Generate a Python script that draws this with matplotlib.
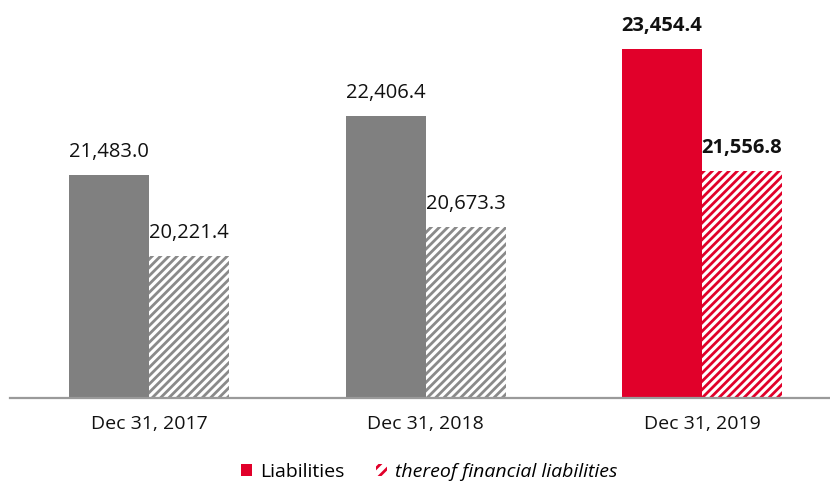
import matplotlib
matplotlib.use("Agg")
import matplotlib.pyplot as plt
import numpy as np
from matplotlib.patches import Patch

plt.rcParams['font.family'] = ['Open Sans', 'DejaVu Sans']
plt.rcParams['hatch.linewidth'] = 2.0

# Data
categories = ["Dec 31, 2017", "Dec 31, 2018", "Dec 31, 2019"]
liabilities = [21483.0, 22406.4, 23454.4]
financial = [20221.4, 20673.3, 21556.8]

grey = "#808080"
grey_hatch = "#8a8a8a"
red = "#e1002a"
solid_colors = [grey, grey, red]
hatch_colors = [grey_hatch, grey_hatch, red]
bold = [False, False, True]

fig = plt.figure(figsize=(8.3, 4.82), dpi=100)
ax = fig.add_axes([10 / 830, (482 - 398) / 482, 820 / 830, 398 / 482])

x = np.arange(len(categories))
w = 80 / 276.5

for i in range(len(categories)):
    ax.bar(x[i] - w / 2, liabilities[i], width=w, color=solid_colors[i], linewidth=0)
    ax.bar(x[i] + w / 2, financial[i], width=w, color="white", edgecolor=hatch_colors[i],
           hatch="////", linewidth=0)
    fw = "bold" if bold[i] else "normal"
    ax.annotate(f"{liabilities[i]:,.1f}", (x[i] - w / 2, liabilities[i]), xytext=(0, 13),
                textcoords="offset points", ha="center", va="baseline", fontsize=14.5,
                fontweight=fw, color="#111111")
    ax.annotate(f"{financial[i]:,.1f}", (x[i] + w / 2, financial[i]), xytext=(0, 13),
                textcoords="offset points", ha="center", va="baseline", fontsize=14.5,
                fontweight=fw, color="#111111")

ax.set_xlim((10 - 149) / 276.5, (830 - 149) / 276.5)
ax.set_ylim(18000, 24227)

ax.set_xticks(x)
ax.set_xticklabels(categories, fontsize=14, color="#111111")
ax.tick_params(axis="x", length=0, pad=12)
ax.set_yticks([])
for s in ["top", "left", "right"]:
    ax.spines[s].set_visible(False)
ax.spines["bottom"].set_color("#9a9a9a")
ax.spines["bottom"].set_linewidth(1.6)

handles = [Patch(facecolor=red, edgecolor=red, linewidth=0),
           Patch(facecolor="white", edgecolor=red, hatch="///", linewidth=0)]
leg = fig.legend(handles, ["Liabilities", "thereof financial liabilities"],
                 loc="center", bbox_to_anchor=(429 / 830, 1 - 472 / 482), ncol=2,
                 frameon=False, fontsize=14, handlelength=0.6, handleheight=0.6,
                 handletextpad=0.4, columnspacing=1.6)
leg.get_texts()[1].set_fontstyle("italic")

fig.savefig("out.png", dpi=100)
